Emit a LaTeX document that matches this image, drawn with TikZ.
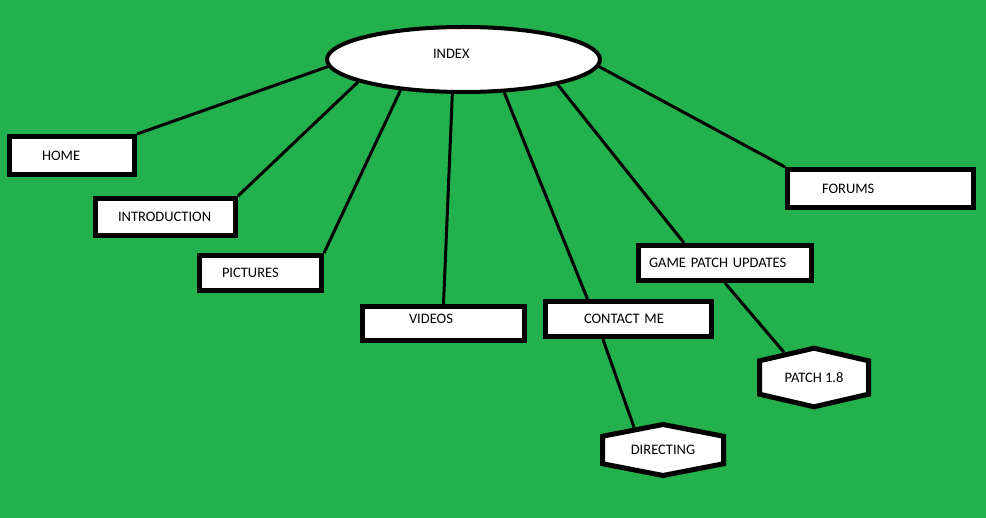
\documentclass[tikz,border=0pt]{standalone}
\usepackage{fontspec}
\setmainfont{Carlito}
\usetikzlibrary{shapes.geometric,shapes.symbols,calc}
\definecolor{paintgreen}{RGB}{34,177,76}

\begin{document}
\begin{tikzpicture}[x=1pt, y=-1pt,
every node/.style = {draw, fill=white, line width=5pt, inner sep=0pt,
  font=\fontsize{14.5}{17}\selectfont},
box/.style 2 args = {rectangle, minimum width=#1pt, minimum height=#2pt, align=left},
hexa/.style 2 args = {shape=signal, signal to=north and south,
  signal pointer angle=154, minimum width=#1pt, minimum height=#2pt},
link/.style = {line width=3pt}
]
\fill[paintgreen] (0,0) rectangle (986,518);
\useasboundingbox (0,0) rectangle (986,518);

\node[ellipse, line width=4pt, minimum width=273pt, minimum height=65pt,
  text width=61pt, align=left, text depth=12pt] (index) at (463.5,59.5) {INDEX};

\node[box={125}{38}, text width=60pt] (home) at (72,155.5) {HOME};
\node[box={140}{37}, text width=95pt] (intro) at (165.5,217) {INTRODUCTION};
\node[box={122}{35}, text width=77pt] (pictures) at (260.5,273) {PICTURES};
\node[box={162}{34}, text width=69pt, text depth=10pt] (videos) at (443.5,323.5) {VIDEOS};
\node[box={166}{35}, text width=89pt] (contact) at (628.5,319) {CONTACT ME};
\node[box={173}{35}, text width=152pt] (game) at (725,263) {GAME PATCH UPDATES};
\node[box={186}{38}, text width=117pt] (forums) at (880.5,188.5) {FORUMS};

\node[hexa={109}{47}] (patch) at (814,377.5) {PATCH 1.8};
\node[hexa={121}{40}, signal pointer angle=158] (directing) at (663,450) {DIRECTING};

% links from the index
\draw[link] (home.north east) -- (index.183);
\draw[link] (intro.north east) -- (index.192);
\draw[link] (pictures.north east) -- (index.206);
\draw[link] (videos.north) -- (index.252);
\draw[link] ($(contact.north west)!0.26!(contact.north east)$) -- (index.321);
\draw[link] ($(game.north west)!0.27!(game.north east)$) -- (index.345);
\draw[link] (forums.north west) -- (index.357);

% sub pages
\draw[link] ($(contact.south west)!0.35!(contact.south east)$) -- (directing.142);
\draw[link] (game.south) -- (patch.140);
\end{tikzpicture}
\end{document}
